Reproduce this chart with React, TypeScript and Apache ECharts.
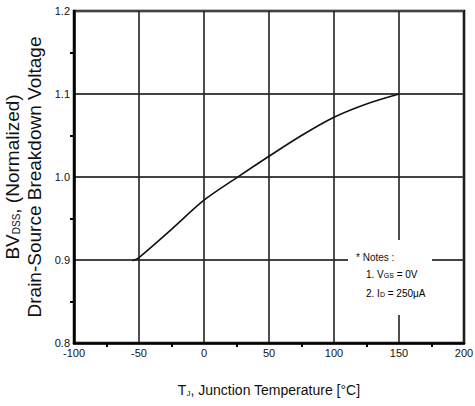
import React, { useEffect, useRef } from "react";
import * as echarts from "echarts";

const temperatures = [-55, -50, -25, 0, 25, 50, 75, 100, 125, 150];
const bvNormalized = [0.899, 0.903, 0.937, 0.972, 0.999, 1.025, 1.05, 1.072, 1.088, 1.1];
const xTicks = [-100, -50, 0, 50, 100, 150, 200];
const yTicks = [0.8, 0.9, 1.0, 1.1, 1.2];

const FONT = "'Liberation Sans', Arial, sans-serif";

export default function App() {
  const ref = useRef<HTMLDivElement>(null);
  useEffect(() => {
    document.body.style.margin = "0";
    if (!ref.current) return;
    const chart = echarts.init(ref.current, undefined, { renderer: "svg" });
    const sub = { fontSize: 8, fontFamily: FONT, color: "#111", verticalAlign: "bottom" as const, lineHeight: 10 };
    chart.setOption({
      animation: false,
      backgroundColor: "#fff",
      grid: {
        left: 74,
        right: 11,
        top: 11,
        bottom: 63,
        containLabel: false,
        outerBoundsMode: "none",
        show: true,
        borderColor: "#000",
        borderWidth: 2.5,
        backgroundColor: "transparent",
      },
      xAxis: {
        type: "value",
        min: xTicks[0],
        max: xTicks[xTicks.length - 1],
        interval: 50,
        axisLine: { show: true, onZero: false, lineStyle: { color: "#000", width: 2.5 } },
        axisTick: { show: false },
        minorTick: { show: true, splitNumber: 2, length: 4, lineStyle: { color: "#000", width: 2 } },
        splitLine: { show: true, lineStyle: { color: "#222", width: 1.6 } },
        axisLabel: {
          color: "#111",
          fontSize: 11,
          fontFamily: FONT,
          margin: 4,
          formatter: (v: number) => String(v),
        },
        name: "{a|T}{s|J}{a|, Junction Temperature [°C]}",
        nameLocation: "middle",
        nameGap: 38,
        nameTextStyle: {
          rich: {
            a: { fontSize: 14, fontFamily: FONT, color: "#111", lineHeight: 16, verticalAlign: "bottom" },
            s: sub,
          },
        },
      },
      yAxis: {
        type: "value",
        min: yTicks[0],
        max: yTicks[yTicks.length - 1],
        interval: 0.1,
        axisLine: { show: true, onZero: false, lineStyle: { color: "#000", width: 2.5 } },
        axisTick: { show: false },
        minorTick: { show: true, splitNumber: 2, length: 4, lineStyle: { color: "#000", width: 2 } },
        splitLine: { show: true, lineStyle: { color: "#444", width: 1.8 } },
        axisLabel: {
          color: "#111",
          fontSize: 11,
          fontFamily: FONT,
          margin: 4,
          formatter: (v: number) => v.toFixed(1),
        },
        name: "{a|BV}{s|DSS}{a|, (Normalized)}\n{a|Drain-Source Breakdown Voltage}",
        nameLocation: "middle",
        nameRotate: 90,
        nameGap: 20,
        nameTextStyle: {
          align: "center",
          rich: {
            a: { fontSize: 19, fontFamily: FONT, color: "#111", lineHeight: 22, verticalAlign: "bottom" },
            s: { fontSize: 10, fontFamily: FONT, color: "#111", verticalAlign: "bottom", lineHeight: 16 },
          },
        },
      },
      series: [
        {
          type: "line",
          data: temperatures.map((t, i) => [t, bvNormalized[i]]),
          smooth: 0.3,
          showSymbol: false,
          lineStyle: { color: "#111", width: 1.6 },
          z: 5,
        },
      ],
      graphic: [
        {
          type: "rect",
          z: 100,
          shape: { x: 348, y: 240, width: 84, height: 75 },
          style: { fill: "#fff" },
        },
        {
          type: "text",
          z: 101,
          x: 356,
          y: 252,
          style: {
            text: "* Notes :",
            fontSize: 10,
            fontFamily: FONT,
            fill: "#111",
          },
        },
        {
          type: "text",
          z: 101,
          x: 366,
          y: 266,
          style: {
            text: "{a|1. V}{s|GS}{a| = 0V}",
            rich: {
              a: { fontSize: 10, fontFamily: FONT, color: "#111", lineHeight: 13, verticalAlign: "bottom" },
              s: { fontSize: 7, fontFamily: FONT, color: "#111", lineHeight: 9, verticalAlign: "bottom" },
            },
          },
        },
        {
          type: "text",
          z: 101,
          x: 366,
          y: 285,
          style: {
            text: "{a|2. I}{s|D}{a| = 250μA}",
            rich: {
              a: { fontSize: 10, fontFamily: FONT, color: "#111", lineHeight: 13, verticalAlign: "bottom" },
              s: { fontSize: 7, fontFamily: FONT, color: "#111", lineHeight: 9, verticalAlign: "bottom" },
            },
          },
        },
      ],
    });
    return () => chart.dispose();
  }, []);
  return <div ref={ref} style={{ width: 475, height: 406 }} />;
}
